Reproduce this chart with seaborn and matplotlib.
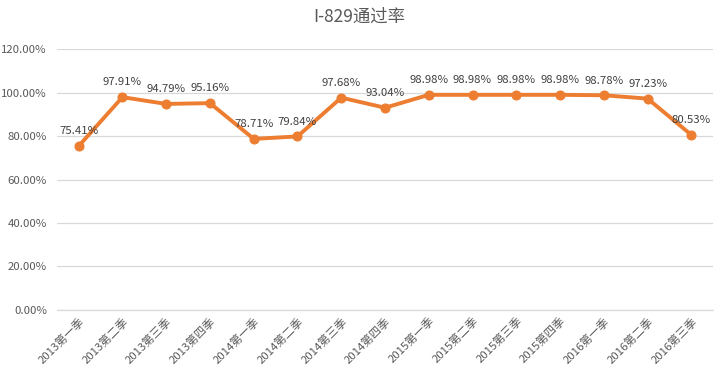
import matplotlib
matplotlib.use("Agg")
import matplotlib.pyplot as plt
import numpy as np
import pandas as pd
import seaborn as sns
from matplotlib.ticker import PercentFormatter

sns.set_theme(style="white")
plt.rcParams['font.family'] = ['Noto Sans CJK SC', 'DejaVu Sans']

# 季度和通过率
quarters = [
    "2013第一季", "2013第二季", "2013第三季", "2013第四季",
    "2014第一季", "2014第二季", "2014第三季", "2014第四季",
    "2015第一季", "2015第二季", "2015第三季", "2015第四季",
    "2016第一季", "2016第二季", "2016第三季",
]
rates = [75.41, 97.91, 94.79, 95.16, 78.71, 79.84, 97.68, 93.04,
         98.98, 98.98, 98.98, 98.98, 98.78, 97.23, 80.53]
yticks = [0, 20, 40, 60, 80, 100, 120]

df = pd.DataFrame({"quarter": quarters, "rate": rates})
orange = "#ED7D31"
grey = "#595959"

fig = plt.figure(figsize=(7.19, 3.78), dpi=100)
ax = fig.add_axes([0.079, 0.180, 0.913, 0.690])

sns.lineplot(data=df, x="quarter", y="rate", ax=ax, color=orange,
             linewidth=2.8, marker="o", markersize=6.5,
             markeredgecolor=orange, sort=False, zorder=3)

for i, (q, r) in enumerate(zip(quarters, rates)):
    ax.annotate(f"{r:.2f}%", (i, r), xytext=(0, 7), textcoords="offset points",
                ha="center", va="bottom", fontsize=8.2, color="#404040")

ax.set_xlim(-0.5, len(quarters) - 0.5)
ax.set_ylim(0, 120)
ax.set_yticks(yticks)
ax.yaxis.set_major_formatter(PercentFormatter(decimals=2))
ax.grid(axis="y", color="#D9D9D9", linewidth=0.9)
ax.axhline(0, color="#D9D9D9", linewidth=0.9, clip_on=False, zorder=1)
ax.set_axisbelow(True)
for s in ax.spines.values():
    s.set_visible(False)
ax.tick_params(axis="both", length=0, colors=grey, labelsize=8.2)
ax.tick_params(axis="y", pad=7)
ax.tick_params(axis="x", pad=4)
plt.setp(ax.get_xticklabels(), rotation=45, ha="right", rotation_mode="anchor")
ax.set_xlabel("")
ax.set_ylabel("")

fig.suptitle("I-829通过率", x=0.5, y=0.98, fontsize=12.5, color=grey)

fig.savefig("out.png", dpi=100, facecolor="white")
